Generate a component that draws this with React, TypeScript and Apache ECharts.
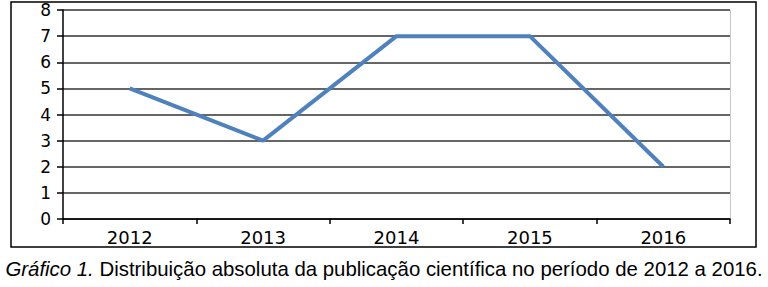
import React, { useEffect, useRef } from "react";
import * as echarts from "echarts";

const categories = ["2012", "2013", "2014", "2015", "2016"];
const values = [5, 3, 7, 7, 2];
const yTicks = [0, 1, 2, 3, 4, 5, 6, 7, 8];

export default function App() {
  const ref = useRef<HTMLDivElement>(null);
  useEffect(() => {
    const chart = echarts.init(ref.current!, null, { renderer: "svg" });
    chart.setOption({
      animation: false,
      grid: { left: 63, right: 38, top: 10, bottom: 68 },
      xAxis: {
        type: "category",
        data: categories,
        boundaryGap: true,
        axisLine: { lineStyle: { color: "#000", width: 1.5 } },
        axisTick: { show: true, length: 5, inside: false, lineStyle: { color: "#000", width: 1.5 } },
        axisLabel: { color: "#000", fontFamily: "DejaVu Sans", fontSize: 18, margin: 9 },
      },
      yAxis: [
        {
          type: "value",
          min: yTicks[0],
          max: yTicks[yTicks.length - 1],
          interval: 1,
          axisLine: { show: true, lineStyle: { color: "#000", width: 1.5 } },
          axisTick: { show: true, length: 6, lineStyle: { color: "#000", width: 1.5 } },
          splitLine: { lineStyle: { color: "#333", width: 1.5 } },
          axisLabel: { color: "#000", fontFamily: "DejaVu Sans", fontSize: 17, margin: 12 },
        },
        {
          type: "value",
          position: "right",
          min: 0,
          max: 8,
          interval: 1,
          axisLine: { show: true, lineStyle: { color: "#c8c8c8", width: 1 } },
          axisTick: { show: false },
          axisLabel: { show: false },
          splitLine: { show: false },
        },
      ],
      series: [
        {
          type: "line",
          data: values,
          symbol: "none",
          lineStyle: { color: "#4F81BD", width: 4 },
        },
      ],
      graphic: [
        {
          type: "rect",
          shape: { x: 11, y: 2, width: 745, height: 245 },
          style: { fill: "none", stroke: "#000", lineWidth: 1.5 },
          z: -1,
        },
        {
          type: "text",
          left: "center",
          top: 259,
          style: {
            text: "{i|Gráfico 1.} Distribuição absoluta da publicação científica no período de 2012 a 2016.",
            rich: {
              i: { fontStyle: "italic", fontFamily: "Liberation Sans", fontSize: 20.4, fill: "#000" },
            },
            fontFamily: "Liberation Sans",
            fontSize: 20.4,
            fill: "#000",
          },
        },
      ],
    });
    return () => chart.dispose();
  }, []);
  return (
    <div
      ref={ref}
      style={{ position: "fixed", left: 0, top: 0, width: 768, height: 287, background: "#fff" }}
    />
  );
}
